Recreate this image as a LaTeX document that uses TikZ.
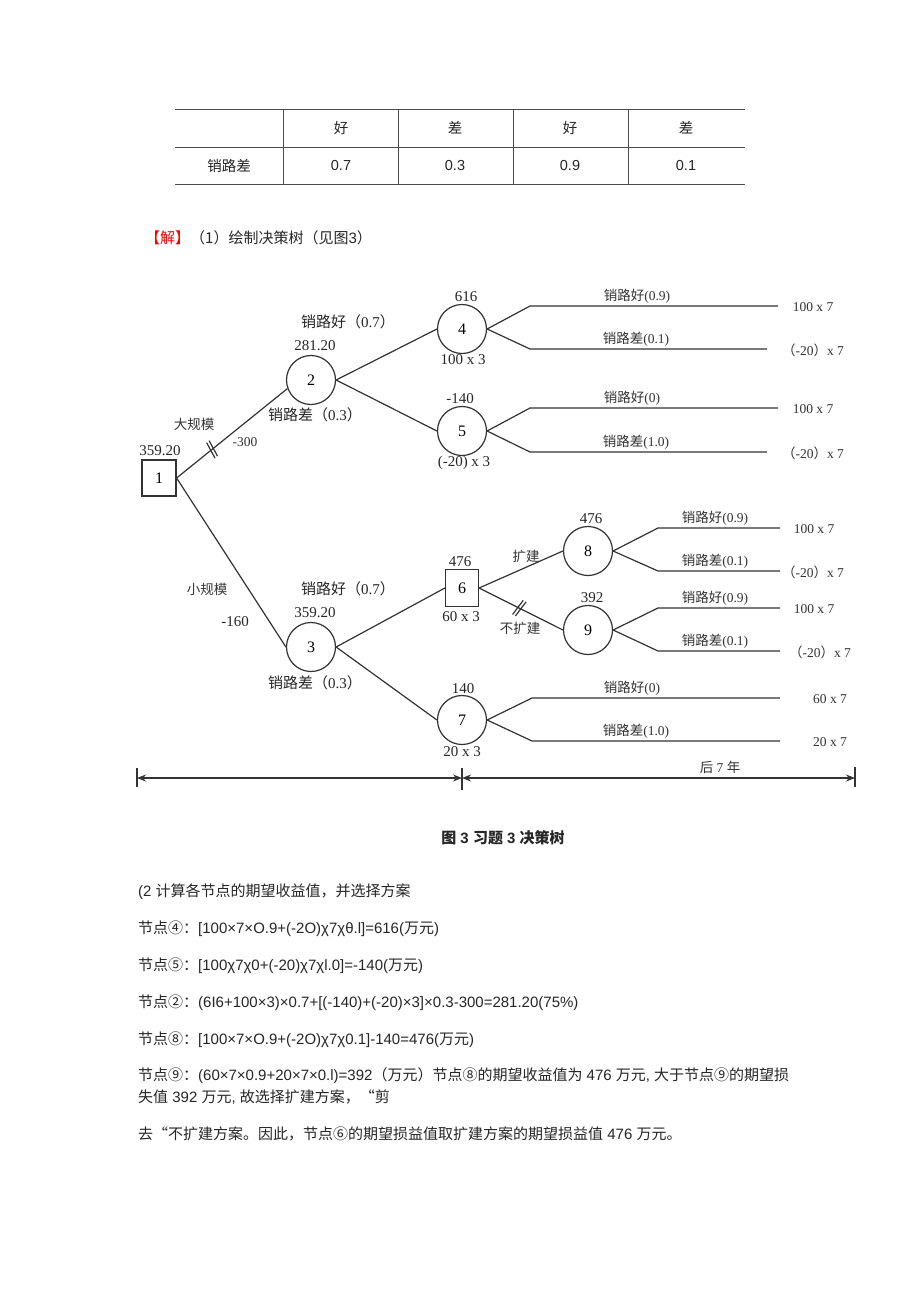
\documentclass[tikz,border=0pt]{standalone}
\usepackage{fontspec}
\setmainfont{Liberation Sans}
\newfontfamily\cjk{Noto Sans CJK SC}
\newfontfamily\tms{Liberation Serif}
\usetikzlibrary{arrows.meta}
\newcommand\zh[1]{{\cjk #1}}
\begin{document}
\begin{tikzpicture}[x=1pt,y=-1pt,>={Stealth[length=9pt,width=7pt]},
  txt/.style={font=\fontsize{15}{18}\selectfont,inner sep=0pt,text=black!85},
  para/.style={txt,anchor=west},
  cell/.style={font=\fontsize{14.5}{17}\selectfont,inner sep=0pt,text=black!85},
  grid/.style={draw=black!70,line width=.8pt},
  lbl/.style={font=\tms\fontsize{15}{18}\selectfont,inner sep=0pt,text=black!85},
  small/.style={font=\tms\fontsize{13.5}{16}\selectfont,inner sep=0pt,text=black!80},
  chance/.style={circle,draw=black!80,line width=1.2pt,minimum size=49pt,inner sep=0pt,font=\tms\fontsize{16}{18}\selectfont},
  decision/.style={rectangle,draw=black!80,line width=1.2pt,minimum width=34pt,minimum height=36pt,inner sep=0pt,font=\tms\fontsize{16}{18}\selectfont},
  edge/.style={draw=black!80,line width=1.2pt}]
\path[fill=white,use as bounding box] (0,0) rectangle (920,1301);
\draw[grid] (175,109) -- (745,109) (175,147) -- (745,147) (175,184) -- (745,184);
\foreach \x in {283,398,513,628} \draw[grid] (\x,109) -- (\x,184);
\node[cell] (rowlab) at (229,166) {\zh{销路差}};
\foreach \x/\h/\p [count=\i] in {341/好/0.7,455/差/0.3,570/好/0.9,686/差/0.1}{
  \node[cell] (head\i) at (\x,128) {\zh{\h}};
  \node[cell] (prob\i) at (\x,166) {\p};
}
\node[para] (sol) at (145,238) {\zh{\textcolor{red}{【解】}（1）绘制决策树（见图}3\zh{）}};
\node[decision] (n1) at (159,478) {1};
\node[chance] (n2) at (311,380) {2};
\node[chance] (n3) at (311,647) {3};
\node[chance] (n4) at (462,329) {4};
\node[chance] (n5) at (462,431) {5};
\node[decision,minimum width=33pt,minimum height=37pt] (n6) at (462,588) {6};
\node[chance] (n7) at (462,720) {7};
\node[chance] (n8) at (588,551) {8};
\node[chance] (n9) at (588,630) {9};
\node[lbl] (v1) at (160,451) {359.20};
\node[lbl] (v2) at (315,346) {281.20};
\node[lbl] (v3) at (315,613) {359.20};
\node[lbl] (v4) at (466,297) {616};
\node[lbl] (v5) at (460,399) {-140};
\node[lbl] (v6) at (460,562) {476};
\node[lbl] (v7) at (463,689) {140};
\node[lbl] (v8) at (591,519) {476};
\node[lbl] (v9) at (592,598) {392};
\node[lbl] (c4) at (463,360) {100 x 3};
\node[lbl] (c5) at (464,463) {(-20) x 3};
\node[lbl] (c6) at (461,617) {60 x 3};
\node[lbl] (c7) at (462,752) {20 x 3};
\node[lbl] (g2) at (348,322) {\zh{销路好（}0.7\zh{）}};
\node[lbl] (b2) at (315,415) {\zh{销路差（}0.3\zh{）}};
\node[lbl] (g3) at (348,589) {\zh{销路好（}0.7\zh{）}};
\node[lbl] (b3) at (315,683) {\zh{销路差（}0.3\zh{）}};
\node[small] (big) at (194,424) {\zh{大规模}};
\node[small] (bigc) at (245,442) {-300};
\node[small] (sml) at (207,589) {\zh{小规模}};
\node[lbl] (smlc) at (235,622) {-160};
\node[small] (ext) at (526,556) {\zh{扩建}};
\node[small] (noext) at (520,628) {\zh{不扩建}};
\draw[edge] (n1.east) -- (n2.200);
\draw[edge] (n1.east) -- (n3.west);
\draw[edge] (n2.east) -- (n4.west);
\draw[edge] (n2.east) -- (n5.west);
\draw[edge] (n3.east) -- (n6.west);
\draw[edge] (n3.east) -- (n7.west);
\draw[edge] (n6.east) -- (n8.west);
\draw[edge] (n6.east) -- (n9.west);
\path (n1.east) -- (n2.200) node[sloped,pos=.32,minimum width=6pt,minimum height=17pt,inner sep=0pt] (cut1) {};
\path (n6.east) -- (n9.west) node[sloped,pos=.48,minimum width=6pt,minimum height=17pt,inner sep=0pt] (cut2) {};
\draw[edge] (cut1.north) -- (cut1.south west) (cut1.north east) -- (cut1.south);
\draw[edge] (cut2.north) -- (cut2.south west) (cut2.north east) -- (cut2.south);
\foreach \s/\jx/\jy/\ex/\lab/\lx/\pay/\px [count=\i] in {
  n4/530/306/778/{\zh{销路好}(0.9)}/637/{100 x 7}/813,
  n4/530/349/767/{\zh{销路差}(0.1)}/636/{\zh{（}-20\zh{）}x 7}/813,
  n5/530/408/778/{\zh{销路好}(0)}/632/{100 x 7}/813,
  n5/530/452/767/{\zh{销路差}(1.0)}/636/{\zh{（}-20\zh{）}x 7}/813,
  n8/658/528/780/{\zh{销路好}(0.9)}/715/{100 x 7}/814,
  n8/658/571/780/{\zh{销路差}(0.1)}/715/{\zh{（}-20\zh{）}x 7}/813,
  n9/658/608/780/{\zh{销路好}(0.9)}/715/{100 x 7}/814,
  n9/658/651/780/{\zh{销路差}(0.1)}/715/{\zh{（}-20\zh{）}x 7}/820,
  n7/532/698/780/{\zh{销路好}(0)}/632/{60 x 7}/830,
  n7/532/741/780/{\zh{销路差}(1.0)}/636/{20 x 7}/830}{
  \coordinate (j\i) at (\jx,\jy);
  \coordinate (e\i) at (\ex,\jy);
  \draw[edge] (\s.east) -- (j\i) -- (e\i);
  \node[small] (lab\i) at (\lx,\jy-10) {\lab};
  \node[small] (pay\i) at (\px,\jy+1) {\pay};
}
\coordinate (d0) at (137,778);
\coordinate (d1) at (462,778);
\coordinate (d2) at (855,778);
\draw[edge,<->] (d0) -- (d1);
\draw[edge,<->] (d1) -- (d2);
\draw[edge] ([yshift=10pt]d0) -- ([yshift=-9pt]d0) ([yshift=10pt]d1) -- ([yshift=-12pt]d1) ([yshift=11pt]d2) -- ([yshift=-9pt]d2);
\node[small] (later) at (720,767) {\zh{后} 7 \zh{年}};
\node[txt,font=\bfseries\fontsize{15}{18}\selectfont] (cap) at (503,838) {\zh{图} 3 \zh{习题} 3 \zh{决策树}};
\node[para] (l0) at (138,892) {(2 \zh{计算各节点的期望收益值，并选择方案}};
\node[para] (l1) at (138,929) {\zh{节点④：}[100×7×O.9+(-2O)χ7χθ.l]=616(\zh{万元})};
\node[para] (l2) at (138,966) {\zh{节点⑤：}[100χ7χ0+(-20)χ7χl.0]=-140(\zh{万元})};
\node[para] (l3) at (138,1003) {\zh{节点②：}(6I6+100×3)×0.7+[(-140)+(-20)×3]×0.3-300=281.20(75\%)};
\node[para] (l4) at (138,1040) {\zh{节点⑧：}[100×7×O.9+(-2O)χ7χ0.1]-140=476(\zh{万元})};
\node[para] (l5) at (138,1076) {\zh{节点⑨：}(60×7×0.9+20×7×0.l)=392\zh{（万元）节点⑧的期望收益值为} 476 \zh{万元}, \zh{大于节点⑨的期望损}};
\node[para] (l6) at (138,1097) {\zh{失值} 392 \zh{万元}, \zh{故选择扩建方案，“剪}};
\node[para] (l7) at (138,1134) {\zh{去“不扩建方案。因此，节点⑥的期望损益值取扩建方案的期望损益值} 476 \zh{万元。}};
\end{tikzpicture}
\end{document}
